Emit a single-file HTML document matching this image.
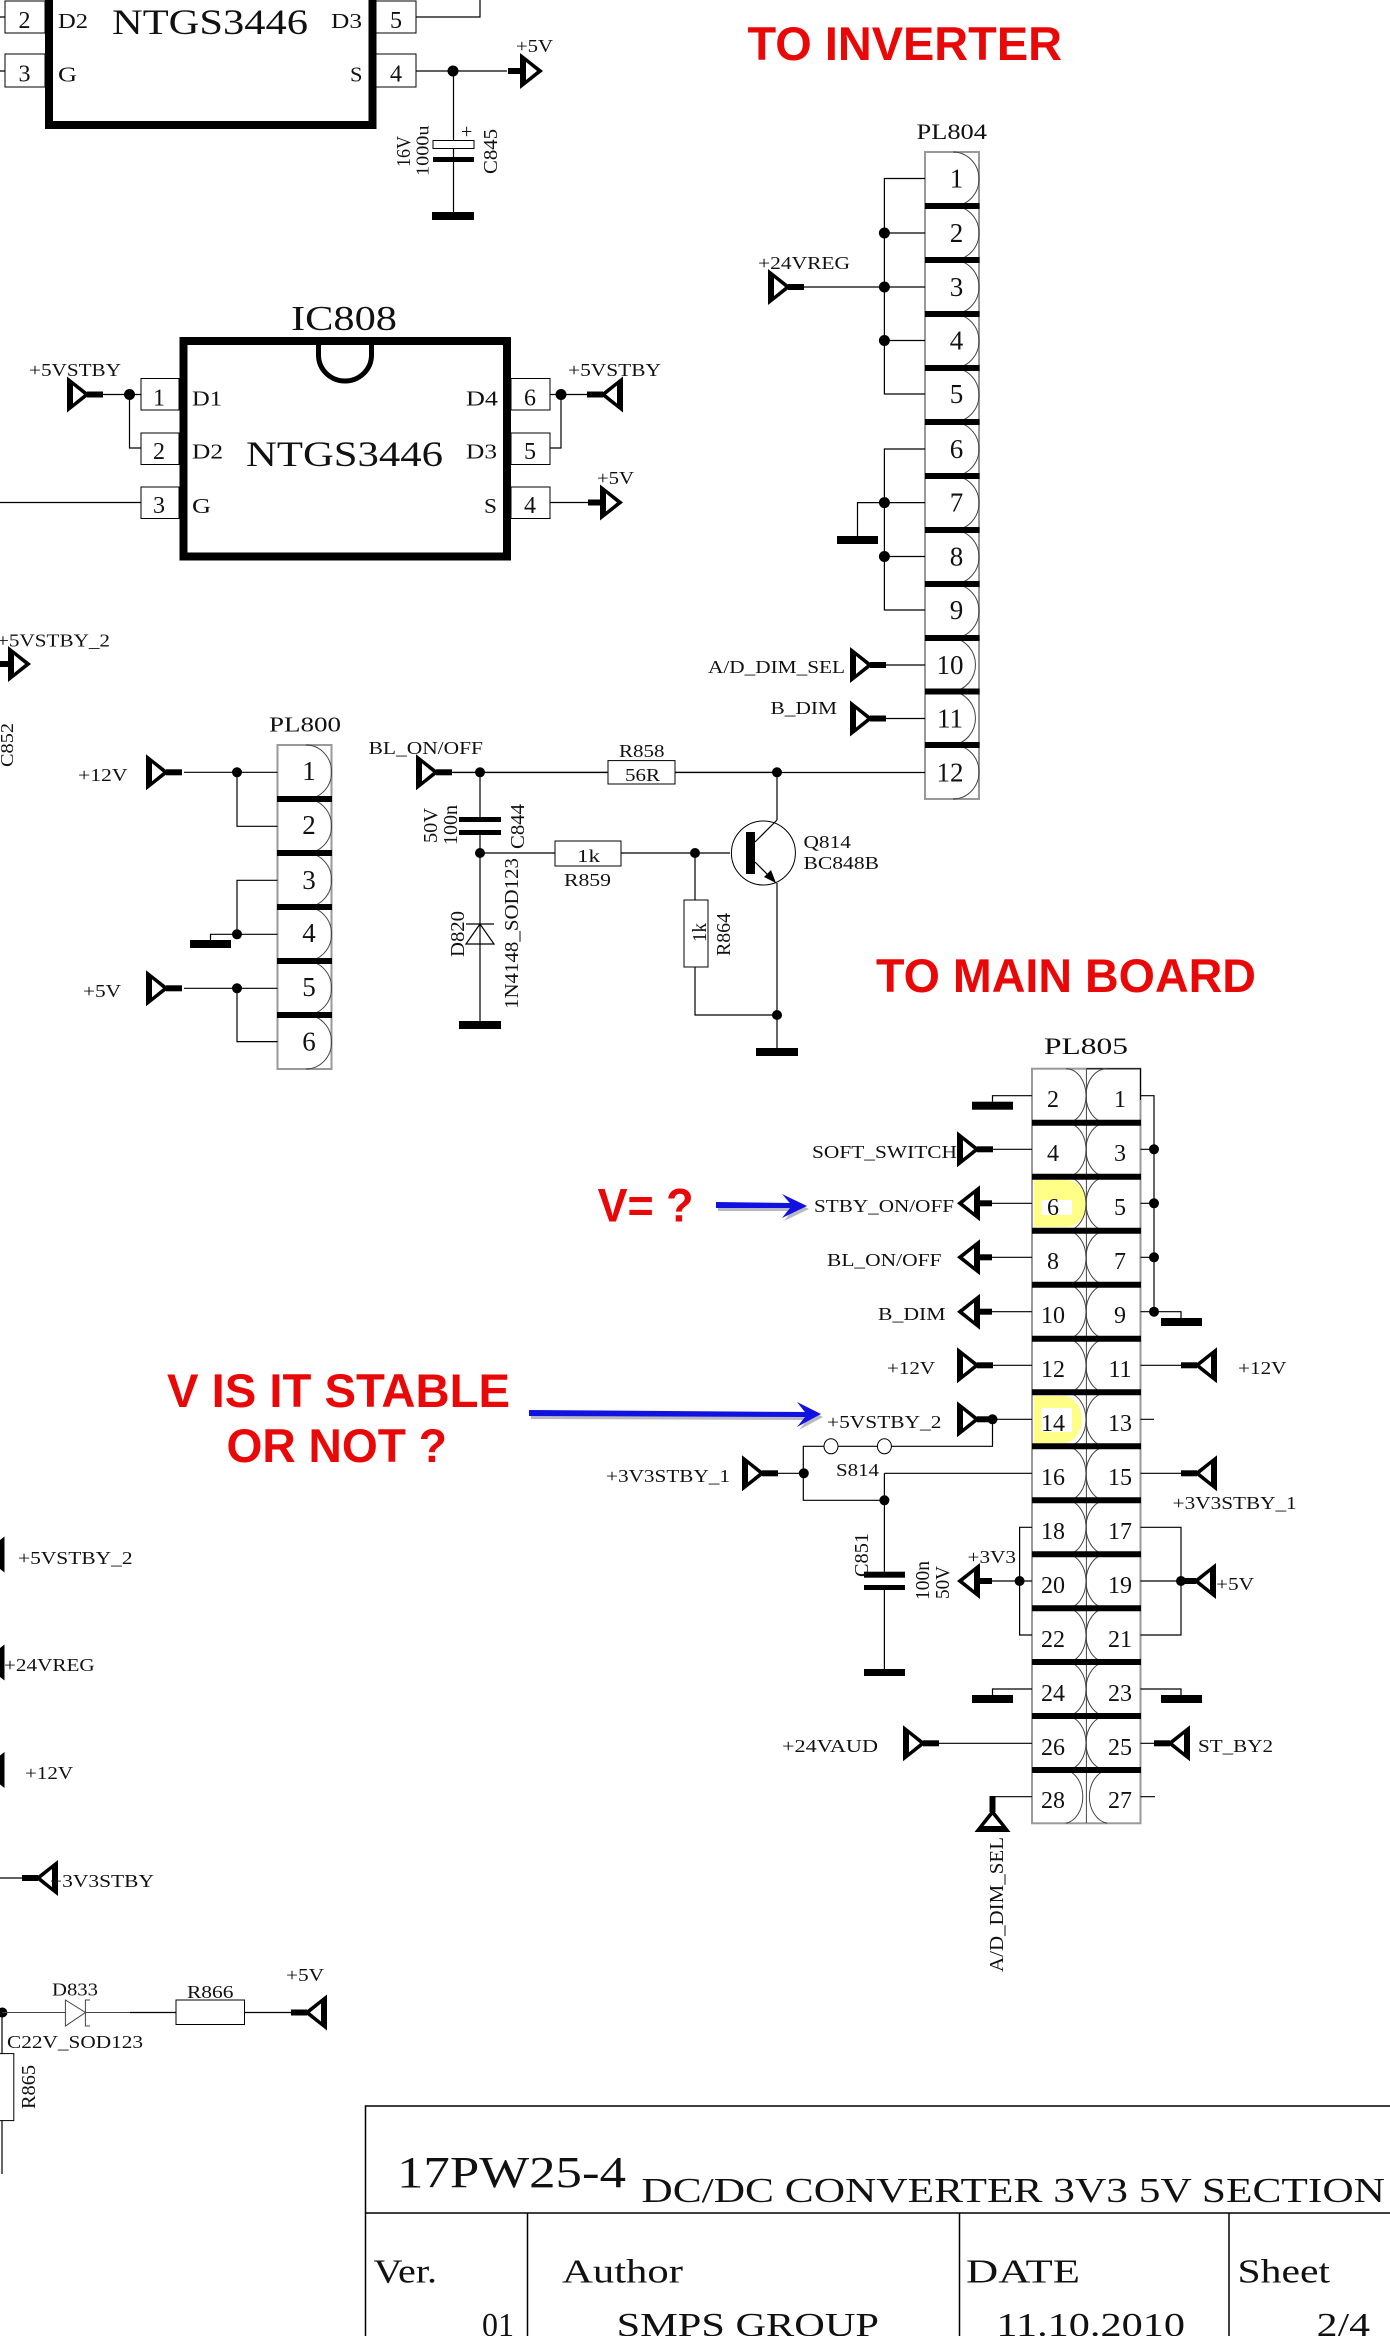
<!DOCTYPE html>
<html lang="en">
<head>
<meta charset="utf-8">
<title>17PW25-4 DC/DC Converter schematic</title>
<style>
html,body{margin:0;padding:0;background:#fff;width:1390px;height:2336px;overflow:hidden}
svg{display:block}
text{font-family:"Liberation Serif",serif;fill:#111}
.w{fill:none;stroke:#000;stroke-width:1.2}
.g{fill:none;stroke:#444;stroke-width:1}
.t{fill:none;stroke:#000;stroke-width:8}
.b{fill:none;stroke:#000;stroke-width:6}
.c{fill:#fff;stroke:#999;stroke-width:2}
.p{fill:#fff;stroke:#000;stroke-width:1}
.l{font-size:18px}
.n{font-size:27px;text-anchor:middle}
.m{font-size:25px;text-anchor:middle}
.o{font-size:24px;text-anchor:middle}
.s{font-size:21px}
.r{font-family:"Liberation Sans",sans-serif;font-weight:bold;fill:#e80808;font-size:47px}
.v{font-size:34px}
</style>
</head>
<body>
<svg xmlns="http://www.w3.org/2000/svg" width="1390" height="2336" viewBox="0 0 1390 2336">
<defs>
<g id="a"><polygon points="-22,-18 1,0 -22,18"/><polygon points="-16,-9 -5,0 -16,9" fill="#fff"/><rect x="-2" y="-3" width="16" height="6"/></g>
<g id="e"><polygon points="0,-18 23,0 0,18"/><polygon points="6,-9 17,0 6,9" fill="#fff"/><rect x="-12" y="-3" width="13" height="6"/></g>
</defs>
<rect width="1390" height="2336" fill="#fff"/>

<!-- Top IC -->
<path class="t" d="M49 0V125H372.5V0"/>
<rect class="p" x="5" y="1" width="40" height="32"/><rect class="p" x="5" y="54" width="40" height="33"/>
<rect class="p" x="376" y="1" width="40" height="32"/><rect class="p" x="376" y="54" width="40" height="33"/>
<path class="w" d="M0 17H5M0 71H5M416 17H480V0M416 71H507M453.5 71V212"/>
<text class="s" x="58" y="28" textLength="30" lengthAdjust="spacingAndGlyphs">D2</text>
<text class="s" x="58" y="81.5" textLength="19" lengthAdjust="spacingAndGlyphs">G</text>
<text class="s" x="331" y="28" textLength="31" lengthAdjust="spacingAndGlyphs">D3</text>
<text class="s" x="350" y="81.5" textLength="12.5" lengthAdjust="spacingAndGlyphs">S</text>
<text font-size="36" x="112" y="34" textLength="196" lengthAdjust="spacingAndGlyphs">NTGS3446</text>
<text class="o" x="24.5" y="28">2</text><text class="o" x="24.5" y="81.5">3</text>
<text class="o" x="396" y="28">5</text><text class="o" x="396" y="81.5">4</text>
<circle cx="453" cy="71" r="5.5"/>
<use href="#e" x="520" y="71"/>
<text class="l" x="516" y="52" textLength="37" lengthAdjust="spacingAndGlyphs">+5V</text>
<rect class="p" x="433" y="140.5" width="41" height="8"/>
<rect x="433" y="157" width="41" height="5"/>
<rect x="432" y="212" width="42" height="8"/>
<text font-size="20" x="461" y="138">+</text>
<text class="l" transform="translate(410,167) rotate(-90)" textLength="31" lengthAdjust="spacingAndGlyphs" style="font-size:20px">16V</text>
<text class="l" transform="translate(428.5,176) rotate(-90)" textLength="50.5" lengthAdjust="spacingAndGlyphs">1000u</text>
<text class="l" transform="translate(497,174) rotate(-90)" textLength="45" lengthAdjust="spacingAndGlyphs" style="font-size:20px">C845</text>

<!-- IC808 -->
<rect x="183.5" y="341" width="323.5" height="215.5" fill="none" stroke="#000" stroke-width="8"/>
<path d="M318.5 345V355A26.5 26 0 0 0 371.5 355V345" fill="none" stroke="#000" stroke-width="5"/>
<text font-size="35" x="291" y="330" textLength="106" lengthAdjust="spacingAndGlyphs">IC808</text>
<text font-size="36" x="246" y="466" textLength="197" lengthAdjust="spacingAndGlyphs">NTGS3446</text>
<rect class="p" x="141" y="378.5" width="38" height="31.5"/><rect class="p" x="141" y="433" width="38" height="31.5"/><rect class="p" x="141" y="487" width="38" height="31.5"/>
<rect class="p" x="511" y="378.5" width="39" height="31.5"/><rect class="p" x="511" y="433" width="39" height="31.5"/><rect class="p" x="511" y="487" width="39" height="31.5"/>
<text class="o" x="159" y="405.6">1</text><text class="o" x="159" y="459">2</text><text class="o" x="159" y="513">3</text>
<text class="o" x="530" y="405.6">6</text><text class="o" x="530" y="459">5</text><text class="o" x="530" y="513">4</text>
<text class="s" x="192" y="405.6" textLength="30" lengthAdjust="spacingAndGlyphs">D1</text>
<text class="s" x="192" y="458.5" textLength="31" lengthAdjust="spacingAndGlyphs">D2</text>
<text class="s" x="192" y="513" textLength="19" lengthAdjust="spacingAndGlyphs">G</text>
<text class="s" x="466" y="405.6" textLength="32" lengthAdjust="spacingAndGlyphs">D4</text>
<text class="s" x="466" y="458.5" textLength="31" lengthAdjust="spacingAndGlyphs">D3</text>
<text class="s" x="484" y="513" textLength="13" lengthAdjust="spacingAndGlyphs">S</text>
<path class="w" d="M103 394.5H141M129.5 394.5V448H141M550 394.5H588M561 394.5V448H550M0 502.5H141M550 502.5H588"/>
<circle cx="129.5" cy="394.5" r="5.5"/><circle cx="561" cy="394.5" r="5.5"/>
<use href="#a" x="89" y="394.5"/>
<use href="#a" transform="translate(601,394.5) scale(-1,1)"/>
<use href="#e" x="600" y="502.5"/>
<text class="l" x="29" y="376" textLength="92" lengthAdjust="spacingAndGlyphs">+5VSTBY</text>
<text class="l" x="568" y="376" textLength="93" lengthAdjust="spacingAndGlyphs">+5VSTBY</text>
<text class="l" x="597" y="484" textLength="37" lengthAdjust="spacingAndGlyphs">+5V</text>

<!-- TO INVERTER / PL804 -->
<text class="r" x="747.5" y="60" textLength="314.5" lengthAdjust="spacingAndGlyphs">TO INVERTER</text>
<text font-size="22" x="916.5" y="139" textLength="70.5" lengthAdjust="spacingAndGlyphs">PL804</text>
<rect class="c" x="925" y="152" width="54" height="647"/>
<path class="g" d="M953 152a26 27 0 0 1 0 54M953 206a26 27 0 0 1 0 54M953 260a26 27 0 0 1 0 54M953 314a26 27 0 0 1 0 54M953 368a26 27 0 0 1 0 54M953 422a26 27 0 0 1 0 54M953 476a26 27 0 0 1 0 54M953 530a26 27 0 0 1 0 54M953 584a26 27 0 0 1 0 54M953 638a26 27 0 0 1 0 53.5M953 691.5a26 27 0 0 1 0 53.5M953 745a26 27 0 0 1 0 54"/>
<path class="b" d="M925 206H979.5M925 260H979.5M925 314H979.5M925 368H979.5M925 422H979.5M925 476H979.5M925 530H979.5M925 584H979.5M925 638H979.5M925 691.5H979.5M925 745H979.5"/>
<text class="n" x="956.5" y="187.5">1</text><text class="n" x="956.5" y="242">2</text><text class="n" x="956.5" y="296">3</text><text class="n" x="956.5" y="349.5">4</text><text class="n" x="956.5" y="403">5</text><text class="n" x="956.5" y="458">6</text><text class="n" x="956.5" y="511.5">7</text><text class="n" x="956.5" y="565.5">8</text><text class="n" x="956.5" y="619">9</text>
<text class="n" x="950" y="674">10</text><text class="n" x="950" y="727.5">11</text><text class="n" x="950" y="781.5">12</text>
<path class="w" d="M925 178.5H884.4V394H925M884.4 233H925M803 287H925M884.4 340.5H925M925 449H884.4V610H925M884.4 502.6H925M884.4 556.5H925M884.4 502.6H857.5V536M884 665H925M884 718.5H925M453 772.5H925"/>
<circle cx="884.4" cy="233" r="5.5"/><circle cx="884.4" cy="287" r="5.5"/><circle cx="884.4" cy="340.5" r="5.5"/><circle cx="884.4" cy="502.6" r="5.5"/><circle cx="884.4" cy="556.5" r="5.5"/>
<use href="#a" x="790" y="287"/>
<use href="#a" x="872" y="665"/>
<use href="#a" x="872" y="718.5"/>
<rect x="837" y="536" width="41" height="8"/>
<text class="l" x="758" y="269" textLength="92" lengthAdjust="spacingAndGlyphs">+24VREG</text>
<text class="l" x="708" y="673" textLength="137" lengthAdjust="spacingAndGlyphs">A/D_DIM_SEL</text>
<text class="l" x="770.5" y="714" textLength="66.5" lengthAdjust="spacingAndGlyphs">B_DIM</text>

<!-- Left fragments -->
<use href="#e" x="8" y="664"/>
<text class="l" x="-3" y="646.7" textLength="113" lengthAdjust="spacingAndGlyphs">+5VSTBY_2</text>
<text class="l" transform="translate(13,767) rotate(-90)" textLength="44" lengthAdjust="spacingAndGlyphs">C852</text>

<!-- PL800 -->
<text font-size="21" x="269" y="731.7" textLength="72" lengthAdjust="spacingAndGlyphs">PL800</text>
<rect class="c" x="277.5" y="745" width="54" height="324"/>
<path class="g" d="M306 745a25.6 27 0 0 1 0 54M306 799a25.6 27 0 0 1 0 54M306 853a25.6 27 0 0 1 0 54M306 907a25.6 27 0 0 1 0 54M306 961a25.6 27 0 0 1 0 54M306 1015a25.6 27 0 0 1 0 54"/>
<path class="b" d="M277 799H332M277 853H332M277 907H332M277 961H332M277 1015H332"/>
<text class="n" x="309" y="780">1</text><text class="n" x="309" y="834">2</text><text class="n" x="309" y="889">3</text><text class="n" x="309" y="942">4</text><text class="n" x="309" y="996">5</text><text class="n" x="309" y="1050.7">6</text>
<path class="w" d="M184 772.3H277.5M237 772.3V826.3H277.5M277.5 880.3H237V934.3H277.5M237 934.3H210.5V940M184 988.3H277.5M237 988.3V1041.6H277.5"/>
<circle cx="237" cy="772.3" r="5"/><circle cx="237" cy="934.3" r="5"/><circle cx="237" cy="988.3" r="5"/>
<use href="#a" x="168" y="772.3"/><use href="#a" x="168" y="988.3"/>
<rect x="190" y="940" width="41" height="8"/>
<text class="l" x="78" y="781" textLength="49.5" lengthAdjust="spacingAndGlyphs">+12V</text>
<text class="l" x="83" y="997" textLength="38" lengthAdjust="spacingAndGlyphs">+5V</text>

<!-- BL_ON/OFF circuit -->
<use href="#a" x="438" y="772.3"/>
<text class="l" x="368.6" y="754" textLength="114.4" lengthAdjust="spacingAndGlyphs">BL_ON/OFF</text>
<path class="w" d="M452 772.3H608M675 772.3H777M480 772.3V817M480 835V1021M480 853H555M621 853H730M695 853V900M695 967V1015H777M777 772.3V820M777 883V1048"/>
<circle cx="480" cy="772.3" r="5"/><circle cx="777" cy="772.3" r="5"/><circle cx="480" cy="853" r="5"/><circle cx="695" cy="853" r="5"/><circle cx="777" cy="1015" r="5"/>
<rect class="p" x="608" y="760.6" width="67" height="23.4"/>
<rect class="p" x="555" y="841" width="66" height="25"/>
<rect class="p" x="684" y="900" width="24" height="67"/>
<rect x="459" y="817" width="42" height="5"/><rect x="459" y="830" width="42" height="5"/>
<rect x="459" y="1021" width="42" height="8"/><rect x="756" y="1048" width="42" height="8"/>
<text class="l" x="619" y="757" textLength="45.5" lengthAdjust="spacingAndGlyphs">R858</text>
<text class="l" x="625" y="781" textLength="35" lengthAdjust="spacingAndGlyphs">56R</text>
<text class="l" x="577" y="862" textLength="23" lengthAdjust="spacingAndGlyphs">1k</text>
<text class="l" x="564" y="886" textLength="47" lengthAdjust="spacingAndGlyphs">R859</text>
<text class="l" x="803.5" y="848" textLength="47.5" lengthAdjust="spacingAndGlyphs">Q814</text>
<text class="l" x="803.5" y="869" textLength="75.5" lengthAdjust="spacingAndGlyphs">BC848B</text>
<text class="l" transform="translate(437,843) rotate(-90)" textLength="35" lengthAdjust="spacingAndGlyphs" style="font-size:20px">50V</text>
<text class="l" transform="translate(457,845) rotate(-90)" textLength="40" lengthAdjust="spacingAndGlyphs" style="font-size:20px">100n</text>
<text class="l" transform="translate(524,849) rotate(-90)" textLength="45" lengthAdjust="spacingAndGlyphs" style="font-size:20px">C844</text>
<text class="l" transform="translate(464,957) rotate(-90)" textLength="46" lengthAdjust="spacingAndGlyphs" style="font-size:20px">D820</text>
<text class="l" transform="translate(518,1009) rotate(-90)" textLength="151" lengthAdjust="spacingAndGlyphs" style="font-size:20px">1N4148_SOD123</text>
<text class="l" transform="translate(706,942) rotate(-90)" textLength="19" lengthAdjust="spacingAndGlyphs" style="font-size:20px">1k</text>
<text class="l" transform="translate(730,956) rotate(-90)" textLength="43" lengthAdjust="spacingAndGlyphs" style="font-size:20px">R864</text>
<path class="w" d="M466 924H494M480 924L466 944H494Z" fill="#fff"/>
<circle cx="763.4" cy="853" r="32" fill="none" stroke="#000" stroke-width="1"/>
<rect x="746" y="832" width="9" height="42"/>
<path class="w" d="M755 842L777 820M755 862L776 883"/>
<polygon points="776,883 764,877 771,870"/>

<!-- TO MAIN BOARD / PL805 -->
<text class="r" x="876" y="992" textLength="380" lengthAdjust="spacingAndGlyphs">TO MAIN BOARD</text>
<text font-size="23" x="1044" y="1054" textLength="84" lengthAdjust="spacingAndGlyphs">PL805</text>
<rect class="c" x="1032" y="1068.7" width="108.5" height="754.6"/>
<path fill="#ffff88" d="M1034 1180H1066a20 23 0 0 1 0 47H1034Z"/>
<rect x="1041.5" y="1200" width="30.5" height="15" fill="#fff"/>
<path fill="#ffff88" d="M1034 1396H1066a20 24 0 0 1 0 47H1034Z"/>
<rect x="1041.5" y="1408" width="30.5" height="24" fill="#fff"/>
<path d="M1086.4 1068.7H1140.5V1100" fill="none" stroke="#000" stroke-width="1"/>
<path class="g" d="M1086.4 1068.7V1823"/>
<path class="g" d="M1066 1068.7a20 27 0 0 1 0 54M1066 1122.7a20 27 0 0 1 0 54M1066 1176.7a20 27 0 0 1 0 54M1066 1230.7a20 27 0 0 1 0 54M1066 1284.7a20 27 0 0 1 0 54M1066 1338.7a20 27 0 0 1 0 54M1066 1392.7a20 27 0 0 1 0 54M1066 1446.7a20 27 0 0 1 0 54M1066 1500.3a20 27 0 0 1 0 54M1066 1554.3a20 27 0 0 1 0 54M1066 1608.3a20 27 0 0 1 0 54M1066 1662a20 27 0 0 1 0 54M1066 1716a20 27 0 0 1 0 54M1066 1770a20 27 0 0 1 0 53.3"/>
<path class="g" d="M1107 1068.7a21 27 0 0 0 0 54M1107 1122.7a21 27 0 0 0 0 54M1107 1176.7a21 27 0 0 0 0 54M1107 1230.7a21 27 0 0 0 0 54M1107 1284.7a21 27 0 0 0 0 54M1107 1338.7a21 27 0 0 0 0 54M1107 1392.7a21 27 0 0 0 0 54M1107 1446.7a21 27 0 0 0 0 54M1107 1500.3a21 27 0 0 0 0 54M1107 1554.3a21 27 0 0 0 0 54M1107 1608.3a21 27 0 0 0 0 54M1107 1662a21 27 0 0 0 0 54M1107 1716a21 27 0 0 0 0 54M1107 1770a21 27 0 0 0 0 53.3"/>
<path class="b" d="M1032 1122.7H1141M1032 1176.7H1141M1032 1230.7H1141M1032 1284.7H1141M1032 1338.7H1141M1032 1392.3H1141M1032 1446.3H1141M1032 1500.3H1141M1032 1554.3H1141M1032 1608.3H1141M1032 1662H1141M1032 1716H1141M1032 1770H1141"/>
<g style="font-size:24px;text-anchor:middle">
<text x="1053" y="1107">2</text><text x="1120" y="1107">1</text>
<text x="1053" y="1161">4</text><text x="1120" y="1161">3</text>
<text x="1053" y="1215">6</text><text x="1120" y="1215">5</text>
<text x="1053" y="1269">8</text><text x="1120" y="1269">7</text>
<text x="1053" y="1323">10</text><text x="1120" y="1323">9</text>
<text x="1053" y="1377">12</text><text x="1120" y="1377">11</text>
<text x="1053" y="1431">14</text><text x="1120" y="1431">13</text>
<text x="1053" y="1485">16</text><text x="1120" y="1485">15</text>
<text x="1053" y="1539">18</text><text x="1120" y="1539">17</text>
<text x="1053" y="1593">20</text><text x="1120" y="1593">19</text>
<text x="1053" y="1647">22</text><text x="1120" y="1647">21</text>
<text x="1053" y="1701">24</text><text x="1120" y="1701">23</text>
<text x="1053" y="1755">26</text><text x="1120" y="1755">25</text>
<text x="1053" y="1808">28</text><text x="1120" y="1808">27</text>
</g>
<path class="w" d="M1032 1095.7H992.5V1101.7M1140.5 1095.7H1154V1311.7H1181V1318M1140.5 1149.3H1154M1140.5 1203.3H1154M1140.5 1257.3H1154M1140.5 1311.7H1154M992 1149.3H1032M992 1203.3H1032M992 1257.3H1032M992 1311.7H1032M992 1365.3H1032M1140.5 1365.3H1181M992.5 1419.3H1032M1140.5 1419.3H1154M992.5 1419.3V1446.3H803.3V1500.3H884.4M776 1473.3H803.3M884.4 1473.3H1032M884.4 1473.3V1571.7M884.4 1590V1669M1140.5 1473.3H1181M1032 1527.3H1019.6V1635H1032M992 1581H1032M1140.5 1527.3H1181V1635H1140.5M1140.5 1581H1181M1032 1689H992.5V1695M1140.5 1689H1181V1695M938 1743.3H1032M1140.5 1743.3H1155M1032 1796.7H992.5M1140.5 1796.7H1155"/>
<circle cx="1154" cy="1149.3" r="5"/><circle cx="1154" cy="1203.3" r="5"/><circle cx="1154" cy="1257.3" r="5"/><circle cx="1154" cy="1311.7" r="5"/>
<circle cx="992.5" cy="1419.3" r="5"/><circle cx="803.8" cy="1473.3" r="5"/><circle cx="884.4" cy="1500.3" r="5"/><circle cx="1019.6" cy="1581" r="5"/><circle cx="1181" cy="1581" r="5"/>
<ellipse cx="831" cy="1446.3" rx="7" ry="7.5" fill="#fff" stroke="#000"/><ellipse cx="884.4" cy="1446.3" rx="7" ry="7.5" fill="#fff" stroke="#000"/>
<rect x="972" y="1101.7" width="41" height="8"/><rect x="1161" y="1318" width="41" height="8"/><rect x="972" y="1695" width="41" height="8"/><rect x="1161" y="1695" width="41" height="8"/>
<rect x="864" y="1571.7" width="41" height="6"/><rect x="864" y="1585" width="41" height="5"/><rect x="864" y="1669" width="41" height="7"/>
<use href="#a" x="979" y="1149.3"/>
<use href="#e" transform="translate(980,1203.3) scale(-1,1)"/>
<use href="#e" transform="translate(980,1257.3) scale(-1,1)"/>
<use href="#e" transform="translate(980,1311.7) scale(-1,1)"/>
<use href="#a" x="979" y="1365.3"/>
<use href="#a" transform="translate(1195,1365.3) scale(-1,1)"/>
<use href="#a" x="979" y="1419.3"/>
<use href="#a" x="764" y="1473.3"/>
<use href="#a" transform="translate(1195,1473.3) scale(-1,1)"/>
<use href="#e" transform="translate(980,1581) scale(-1,1)"/>
<use href="#a" transform="translate(1194,1581) scale(-1,1)"/>
<use href="#a" x="925" y="1743.3"/>
<use href="#a" transform="translate(1168,1743.3) scale(-1,1)"/>
<use href="#a" transform="translate(992.5,1810) rotate(-90)"/>
<path d="M992.5 1796.7V1810" stroke="#000" stroke-width="3"/>
<text class="l" x="812" y="1158" textLength="145" lengthAdjust="spacingAndGlyphs">SOFT_SWITCH</text>
<text class="l" x="814" y="1212" textLength="140" lengthAdjust="spacingAndGlyphs">STBY_ON/OFF</text>
<text class="l" x="827" y="1266" textLength="114.5" lengthAdjust="spacingAndGlyphs">BL_ON/OFF</text>
<text class="l" x="878" y="1320" textLength="67.6" lengthAdjust="spacingAndGlyphs">B_DIM</text>
<text class="l" x="887" y="1374" textLength="48" lengthAdjust="spacingAndGlyphs">+12V</text>
<text class="l" x="1238" y="1374" textLength="48.5" lengthAdjust="spacingAndGlyphs">+12V</text>
<text class="l" x="827" y="1428" textLength="114.5" lengthAdjust="spacingAndGlyphs">+5VSTBY_2</text>
<text class="l" x="606" y="1482" textLength="124" lengthAdjust="spacingAndGlyphs">+3V3STBY_1</text>
<text class="l" x="836" y="1476" textLength="43" lengthAdjust="spacingAndGlyphs">S814</text>
<text class="l" x="1172.7" y="1509" textLength="124" lengthAdjust="spacingAndGlyphs">+3V3STBY_1</text>
<text class="l" transform="translate(868,1577) rotate(-90)" textLength="44" lengthAdjust="spacingAndGlyphs" style="font-size:20px">C851</text>
<text class="l" transform="translate(929,1600) rotate(-90)" textLength="39" lengthAdjust="spacingAndGlyphs" style="font-size:20px">100n</text>
<text class="l" transform="translate(949,1599) rotate(-90)" textLength="33" lengthAdjust="spacingAndGlyphs" style="font-size:20px">50V</text>
<text class="l" x="967.5" y="1563" textLength="48.5" lengthAdjust="spacingAndGlyphs">+3V3</text>
<text class="l" x="1216" y="1590" textLength="38" lengthAdjust="spacingAndGlyphs">+5V</text>
<text class="l" x="782" y="1752" textLength="96" lengthAdjust="spacingAndGlyphs">+24VAUD</text>
<text class="l" x="1198" y="1752" textLength="75" lengthAdjust="spacingAndGlyphs">ST_BY2</text>
<text class="l" transform="translate(1003,1972) rotate(-90)" textLength="135" lengthAdjust="spacingAndGlyphs" style="font-size:20px">A/D_DIM_SEL</text>

<!-- Annotations -->
<text class="r" x="597.6" y="1221.7" textLength="96" lengthAdjust="spacingAndGlyphs">V= ?</text>
<polygon points="718,1205 792,1206 784,1197 809,1209 784,1221 792,1211 718,1211" fill="#8a8a9a" opacity=".6"/>
<polygon points="716,1202 790,1203 782,1194 807,1206 782,1218 790,1208 716,1208" fill="#1212e0"/>
<polygon points="531,1413 807,1415 799,1405 823,1417 799,1430 807,1420 531,1419" fill="#8a8a9a" opacity=".6"/>
<polygon points="529,1410 805,1412 797,1402 821,1414 797,1427 805,1417 529,1416" fill="#1212e0"/>
<text class="r" x="167" y="1407" textLength="343" lengthAdjust="spacingAndGlyphs">V IS IT STABLE</text>
<text class="r" x="226.5" y="1462" textLength="220.5" lengthAdjust="spacingAndGlyphs">OR NOT ?</text>

<!-- Lower left fragments -->
<use href="#a" transform="translate(-17.5,1554.5) scale(-1,1)"/>
<use href="#a" transform="translate(-17.5,1662.5) scale(-1,1)"/>
<use href="#a" transform="translate(-17.5,1770) scale(-1,1)"/>
<text class="l" x="18" y="1564" textLength="114.6" lengthAdjust="spacingAndGlyphs">+5VSTBY_2</text>
<text class="l" x="4" y="1671" textLength="90.7" lengthAdjust="spacingAndGlyphs">+24VREG</text>
<text class="l" x="25" y="1779" textLength="48" lengthAdjust="spacingAndGlyphs">+12V</text>
<path class="w" d="M0 1878H22"/>
<use href="#a" transform="translate(36,1878) scale(-1,1)"/>
<text class="l" x="50" y="1887" textLength="104" lengthAdjust="spacingAndGlyphs">+3V3STBY</text>
<circle cx="2.4" cy="2012.5" r="5"/>
<path class="g" d="M2 2012.5H65.4M85.4 2012.5H130"/>
<path class="g" d="M65.4 2000V2026L85.4 2012.5ZM90 2000H85.4V2026H90"/>
<path class="w" d="M130 2012.5H176M244.5 2012.5H291M2 2012.5V2053.6M2 2120.5V2174"/>
<rect class="p" x="176" y="2000" width="68.5" height="24.5"/>
<rect class="p" x="-10" y="2053.6" width="23.8" height="67"/>
<use href="#a" transform="translate(305,2012.5) scale(-1,1)"/>
<text class="l" x="52" y="1995.5" textLength="46" lengthAdjust="spacingAndGlyphs">D833</text>
<text class="l" x="187" y="1998" textLength="46.5" lengthAdjust="spacingAndGlyphs">R866</text>
<text class="l" x="286" y="1981" textLength="38" lengthAdjust="spacingAndGlyphs">+5V</text>
<text class="l" x="7" y="2048" textLength="136" lengthAdjust="spacingAndGlyphs">C22V_SOD123</text>
<text class="l" transform="translate(35,2109) rotate(-90)" textLength="44" lengthAdjust="spacingAndGlyphs" style="font-size:20px">R865</text>

<!-- Title block -->
<path class="w" d="M1390 2106H365.5V2336M365.5 2213H1390M527.5 2213V2336M959.5 2213V2336M1229 2213V2336" style="stroke-width:1.5"/>
<text font-size="44" x="397" y="2187" textLength="229" lengthAdjust="spacingAndGlyphs">17PW25-4</text>
<text font-size="35" x="641.4" y="2202" textLength="743.6" lengthAdjust="spacingAndGlyphs">DC/DC CONVERTER 3V3 5V SECTION</text>
<text class="v" x="373.5" y="2282.7" textLength="63.5" lengthAdjust="spacingAndGlyphs">Ver.</text>
<text class="v" x="562" y="2282.7" textLength="121" lengthAdjust="spacingAndGlyphs">Author</text>
<text class="v" x="966" y="2282.7" textLength="114" lengthAdjust="spacingAndGlyphs">DATE</text>
<text class="v" x="1237.5" y="2282.7" textLength="92.5" lengthAdjust="spacingAndGlyphs">Sheet</text>
<text class="v" x="482" y="2336" textLength="32" lengthAdjust="spacingAndGlyphs">01</text>
<text class="v" x="616.6" y="2336" textLength="262.4" lengthAdjust="spacingAndGlyphs">SMPS GROUP</text>
<text class="v" x="996.4" y="2336" textLength="188.6" lengthAdjust="spacingAndGlyphs">11.10.2010</text>
<text class="v" x="1316.6" y="2336" textLength="53.4" lengthAdjust="spacingAndGlyphs">2/4</text>
</svg>
</body>
</html>
